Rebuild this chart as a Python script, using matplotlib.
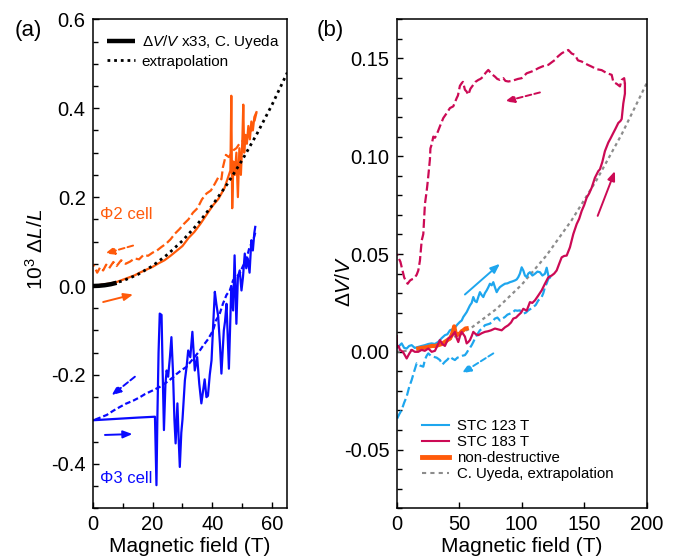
import matplotlib
matplotlib.use("Agg")
import matplotlib.pyplot as plt
from matplotlib.ticker import MultipleLocator

plt.rcParams['font.family'] = ['Liberation Sans', 'DejaVu Sans']
plt.rcParams['mathtext.fontset'] = 'custom'
plt.rcParams['mathtext.rm'] = 'Liberation Sans'
plt.rcParams['mathtext.it'] = 'Liberation Sans:italic'
plt.rcParams['mathtext.bf'] = 'Liberation Sans:bold'

# ---------------- panel (a): magnetostriction, 10^3 dL/L ----------------
uyeda_B = [0, 2, 4, 6, 8]
uyeda_dL = [0.0, 0.0005, 0.0018, 0.004, 0.0073]

extrap_B = [0, 5, 10, 15, 20, 25, 30, 35, 40, 45, 50, 55, 60, 65]
extrap_dL = [0.0, 0.0028, 0.0114, 0.0256, 0.0454, 0.071, 0.102, 0.139,
             0.182, 0.230, 0.284, 0.344, 0.409, 0.480]

phi2_up_B = [0, 2, 4, 6, 8, 10, 12, 14, 16, 18, 20, 22, 24, 26, 28, 30, 32,
             34, 36, 38, 40, 41, 42, 43, 44, 45, 45.5, 46, 46.3, 46.6, 47,
             47.5, 48, 48.5, 49, 49.5, 50, 50.3, 50.6, 51, 51.5, 52, 52.5,
             53, 53.5, 54, 54.7]
phi2_up_dL = [0.0, 0.002, 0.004, 0.006, 0.009, 0.014, 0.019, 0.024, 0.031,
              0.037, 0.043, 0.051, 0.058, 0.068, 0.079, 0.090, 0.108, 0.122,
              0.140, 0.160, 0.180, 0.188, 0.196, 0.208, 0.220, 0.240, 0.250,
              0.260, 0.428, 0.175, 0.280, 0.250, 0.300, 0.200, 0.310, 0.250,
              0.330, 0.408, 0.300, 0.340, 0.320, 0.360, 0.330, 0.370, 0.350,
              0.380, 0.391]

phi2_down_B = [54.7, 54, 53.5, 53, 52, 51, 50.2, 49, 48, 46.9, 45.5, 44.5,
               43.5, 43, 42, 40.8, 39.5, 38, 36.5, 35, 33.5, 32, 30.5, 29,
               27.5, 26, 24.5, 23, 21.5, 20, 18.5, 17, 15.5, 14, 12.5, 11,
               9.5, 8, 6.9, 5.5, 4.5, 3.5, 2.5, 1.5, 0.5, 0]
phi2_down_dL = [0.39, 0.37, 0.365, 0.35, 0.345, 0.335, 0.327, 0.32, 0.31,
                0.305, 0.29, 0.295, 0.267, 0.24, 0.245, 0.23, 0.215, 0.208,
                0.195, 0.175, 0.165, 0.15, 0.14, 0.128, 0.118, 0.105, 0.095,
                0.088, 0.080, 0.075, 0.068, 0.070, 0.060, 0.062, 0.055,
                0.050, 0.058, 0.045, 0.054, 0.040, 0.048, 0.035, 0.042,
                0.030, 0.045, 0.048]

phi3_up_B = [0, 5, 10, 15, 20.8, 21.3, 21.6, 22.0, 22.4, 23.0, 23.4, 23.8,
             24.3, 24.7, 25.2, 25.8, 26.3, 26.8, 27.3, 27.7, 28.3, 28.7,
             29.1, 29.6, 30.0, 30.8, 31.4, 31.9, 32.6, 33.3, 34.1, 34.9,
             35.6, 36.3, 37.4, 38.0, 38.5, 39.1, 39.7, 40.3, 40.8, 41.3,
             41.9, 42.5, 43.0, 43.8, 44.2, 44.7, 45.5, 46.3, 46.9, 47.4,
             48.0, 48.5, 49.1, 49.7, 50.2, 50.8, 51.3, 51.8, 52.4, 53.0,
             53.5, 54.0, 54.3]
phi3_up_dL = [-0.302, -0.300, -0.298, -0.296, -0.294, -0.448, -0.30, -0.15,
              -0.062, -0.065, -0.20, -0.324, -0.22, -0.19, -0.204, -0.16,
              -0.115, -0.19, -0.30, -0.354, -0.264, -0.34, -0.407, -0.33,
              -0.30, -0.212, -0.18, -0.145, -0.16, -0.103, -0.19, -0.16,
              -0.22, -0.264, -0.21, -0.25, -0.247, -0.20, -0.167, -0.08,
              -0.013, -0.04, -0.067, -0.13, -0.197, -0.10, -0.08, -0.04,
              -0.186, 0.0, -0.055, 0.069, -0.085, 0.02, 0.035, -0.01, 0.02,
              0.073, 0.04, 0.062, 0.03, 0.103, 0.08, 0.12, 0.133]

phi3_down_B = [54.3, 53.5, 52.4, 51.3, 50.2, 49.1, 48, 46.9, 45.8, 44.7,
               43.5, 42.3, 41.2, 40.2, 38.5, 36.8, 35.8, 34, 32.5, 31.3,
               29.5, 28, 26.9, 25, 22.4, 20, 17.5, 15.8, 13.5, 11, 9.1, 7,
               4.7, 2.5, 1, 0]
phi3_down_dL = [0.12, 0.10, 0.088, 0.058, 0.045, 0.028, 0.02, 0.013, -0.01,
                -0.02, -0.04, -0.065, -0.077, -0.10, -0.12, -0.135, -0.145,
                -0.16, -0.172, -0.182, -0.19, -0.198, -0.205, -0.215, -0.227,
                -0.235, -0.243, -0.25, -0.258, -0.265, -0.272, -0.28, -0.29,
                -0.296, -0.300, -0.302]

# sweep-direction arrows (start B, start y, end B, end y, colour, dashed)
arrows_a = [
    (13.5, 0.091, 4.1, 0.073, '#ff5a0a', True),
    (3.5, -0.036, 13.5, -0.019, '#ff5a0a', False),
    (14.1, -0.204, 6.3, -0.246, '#0a0aff', True),
    (4.1, -0.335, 13.3, -0.333, '#0a0aff', False),
]

# ---------------- panel (b): volume change dV/V ----------------
stc183_up_B = [0, 0.3, 1.5, 2.6, 5, 8, 10, 12, 14.5, 17.3, 20, 22.5, 25.3,
               28, 30.6, 32.5, 34.6, 36.5, 38.6, 40, 41.3, 44, 46.6, 48,
               49.3, 50.6, 52, 53.3, 54.6, 56, 57.3, 58.6, 60, 61.3, 63.3,
               65.3, 68, 70.6, 73, 75.5, 78.6, 81, 84, 86.6, 89.3, 91.5, 93.3,
               95.5, 97.3, 99.5, 101.3, 104, 106.6, 108.5, 110.6, 113.3, 116,
               118.6, 120, 121.3, 124, 126, 128, 130, 132, 134, 136, 138.6,
               141.3, 144, 146, 148, 150, 152, 154, 156, 158.6, 161.3, 162.6,
               164.5, 166.6, 169.3, 171, 173.3, 175, 177.3, 179, 180, 181.3,
               182.6, 182.6]
stc183_up_dV = [0.008, 0.0025, 0.003, 0.001, 0.000, -0.0034, -0.001, 0.001,
                0.0, -0.0, 0.001, 0.0005, 0.0017, 0.000, 0.0005, 0.003,
                0.006, 0.004, 0.003, 0.005, 0.0068, 0.008, 0.0102, 0.007,
                0.005, 0.008, 0.0102, 0.009, 0.0078, 0.0043, 0.005, 0.006,
                0.008, 0.0102, 0.009, 0.0085, 0.0095, 0.0102, 0.0105, 0.011,
                0.0119, 0.0115, 0.011, 0.0125, 0.0136, 0.015, 0.017, 0.0175,
                0.0187, 0.0200, 0.022, 0.021, 0.0254, 0.025, 0.0263, 0.0288,
                0.0314, 0.0348, 0.0365, 0.0381, 0.039, 0.040, 0.0416, 0.045,
                0.0483, 0.049, 0.0492, 0.0534, 0.0602, 0.0653, 0.068, 0.072,
                0.075, 0.0788, 0.081, 0.0839, 0.089, 0.0924, 0.0933, 0.097,
                0.1026, 0.107, 0.109, 0.1119, 0.114, 0.117, 0.118, 0.119,
                0.127, 0.132, 0.137]

stc183_down_B = [182.6, 182, 180, 178.6, 176, 173.3, 172, 168, 164, 160,
                 156, 152, 148, 145, 142.6, 140, 137.3, 134.5, 132, 129,
                 126.6, 124, 121.3, 117, 113.3, 110.5, 108, 104, 100, 97,
                 94.6, 92, 89.3, 87, 85.3, 82.6, 80.5, 78.6, 76, 73.3, 71,
                 69.3, 67, 65.3, 63, 61.3, 59, 57.3, 56, 54.6, 53, 52, 50.6,
                 49, 48, 45.3, 42.6, 40, 37.3, 34.6, 32, 30.6, 29.3, 28, 27,
                 26.6, 25.3, 24.5, 24, 22.6, 21.3, 20, 18.6, 17.3, 16, 14.5,
                 13.3, 12, 10.6, 8.8, 7.5, 6, 4.5, 3, 1.5, 0.3]
stc183_down_dV = [0.137, 0.1399, 0.139, 0.1357, 0.137, 0.138, 0.1416,
                  0.1425, 0.144, 0.1445, 0.1458, 0.1470, 0.1484, 0.149,
                  0.1518, 0.1525, 0.1543, 0.1535, 0.1526, 0.151, 0.1492,
                  0.148, 0.1467, 0.146, 0.145, 0.144, 0.1433, 0.1424, 0.1399,
                  0.1395, 0.139, 0.1385, 0.1382, 0.1385, 0.1399, 0.139,
                  0.1395, 0.1407, 0.142, 0.1441, 0.1425, 0.1407, 0.1395,
                  0.139, 0.138, 0.1365, 0.1345, 0.1314, 0.133, 0.134, 0.138,
                  0.1373, 0.136, 0.131, 0.1297, 0.1255, 0.1246, 0.122,
                  0.1195, 0.1153, 0.111, 0.1094, 0.110, 0.106, 0.104, 0.0984,
                  0.0899, 0.085, 0.0822, 0.0755, 0.0602, 0.0568, 0.0466,
                  0.0416, 0.0394, 0.038, 0.0373, 0.037, 0.0364, 0.0348,
                  0.036, 0.038, 0.042, 0.046, 0.048, 0.050]

stc123_up_B = [0, 2, 4, 6, 8, 10, 12, 14.5, 17.3, 20, 22.6, 25.3, 28, 30.6,
               33.3, 36, 38.6, 40.6, 42.6, 44.6, 46.6, 48.6, 50.6, 52, 53.3,
               54.6, 56, 57.3, 58.6, 60, 61.3, 62.6, 64, 65.3, 66.6, 68, 69.3,
               70.6, 72, 73.3, 74.6, 76, 77.3, 78.6, 80, 81.3, 82.6, 84.6,
               86.6, 88.6, 90.6, 92.6, 94.6, 96, 97.3, 98.6, 100, 101.3,
               102.6, 104, 105.3, 106.6, 108.6, 110.6, 112.6, 114.6, 116.6,
               118.6, 120, 121.3, 122.6]
stc123_up_dV = [0.0017, 0.003, 0.0043, 0.002, 0.0017, 0.003, 0.0034, 0.002,
                0.0025, 0.003, 0.0034, 0.004, 0.0043, 0.004, 0.0051, 0.007,
                0.0085, 0.009, 0.011, 0.0115, 0.0124, 0.014, 0.0153, 0.016,
                0.0178, 0.019, 0.0203, 0.022, 0.0237, 0.025, 0.028, 0.026,
                0.0254, 0.028, 0.0305, 0.029, 0.028, 0.030, 0.0314, 0.033,
                0.0348, 0.034, 0.0356, 0.033, 0.0305, 0.032, 0.0331, 0.034,
                0.0348, 0.035, 0.0356, 0.036, 0.0365, 0.037, 0.0382, 0.040,
                0.0432, 0.0416, 0.039, 0.0382, 0.040, 0.0407, 0.039, 0.0399,
                0.041, 0.0407, 0.039, 0.0399, 0.043, 0.039, 0.038]

stc123_down_B = [122.6, 121.3, 120, 118.6, 117.3, 116, 114.6, 113.3, 111.3,
                 109.3, 107.3, 105.3, 103.3, 101.3, 100, 98.6, 96.6, 94.6,
                 92.6, 90.6, 88.6, 86.6, 84.6, 82.6, 80.6, 78.6, 76.6, 74.6,
                 72.6, 70.6, 68.6, 66.6, 64.6, 62.6, 61.3, 60, 58.6, 57.3,
                 56, 54.6, 52.6, 50.6, 48.6, 46.6, 44.6, 42.6, 40.6, 38.6,
                 36.6, 34.6, 32, 29.3, 27.3, 25.3, 24, 22.6, 21.3, 18.6, 16,
                 14, 12, 10, 8, 6, 4, 2, 0]
stc123_down_dV = [0.038, 0.0373, 0.035, 0.033, 0.030, 0.028, 0.027, 0.0263,
                  0.024, 0.0229, 0.022, 0.0212, 0.020, 0.0195, 0.020, 0.0212,
                  0.021, 0.0212, 0.020, 0.0195, 0.019, 0.0178, 0.017, 0.016,
                  0.0175, 0.017, 0.0155, 0.0144, 0.014, 0.0136, 0.012, 0.011,
                  0.009, 0.0068, 0.005, 0.0034, 0.002, 0.0009, -0.0005,
                  -0.0017, -0.002, -0.0025, -0.003, -0.0042, -0.0035,
                  -0.0025, -0.004, -0.0051, -0.0065, -0.0042, -0.003,
                  -0.0025, -0.002, -0.0008, -0.002, -0.004, -0.0076, -0.007,
                  -0.0059, -0.010, -0.0144, -0.018, -0.0229, -0.026, -0.0297,
                  -0.032, -0.0347]

nondestr_B = [17.3, 20, 22.6, 25.3, 28, 30.6, 33.3, 36, 38.6, 40.6, 42.6, 44,
              45.3, 46, 47, 48, 49.3, 50.6, 52, 53.3, 55, 56]
nondestr_dV = [0.0017, 0.002, 0.0022, 0.0025, 0.003, 0.003, 0.0034, 0.004,
               0.0051, 0.006, 0.0068, 0.0085, 0.011, 0.013, 0.010, 0.0085,
               0.009, 0.0093, 0.0105, 0.011, 0.0119, 0.012]

uyeda_ext_B = [0, 20, 40, 60, 80, 100, 120, 140, 160, 180, 200]
uyeda_ext_dV = [0.0, 0.00137, 0.0055, 0.0124, 0.022, 0.0343, 0.0494, 0.0673,
                0.0879, 0.1112, 0.1373]

arrows_b = [
    (114.6, 0.1326, 86.6, 0.128, '#cc0a55', True),
    (160.8, 0.0695, 174.6, 0.0924, '#cc0a55', False),
    (54.6, 0.0293, 82.6, 0.045, '#1ea6ee', False),
    (77.3, -0.0008, 52.0, -0.011, '#1ea6ee', True),
]

ORANGE = '#ff5a0a'
BLUE = '#0a0aff'
CYAN = '#1ea6ee'
CRIMSON = '#cc0a55'
GRAY = '#8c8c8c'
DASH = (0, (4, 1.6))
LW = 1.6

fig = plt.figure(figsize=(6.79, 5.59), dpi=100)
ax1 = fig.add_axes([0.1365, 0.0907, 0.2866, 0.8748])
ax2 = fig.add_axes([0.5842, 0.0907, 0.3682, 0.8748])


def style_axes(ax):
    for sp in ax.spines.values():
        sp.set_linewidth(1.1)
    ax.tick_params(which='both', direction='in', top=False, right=False,
                   labelsize=14.5, width=1.0, pad=5)
    ax.tick_params(which='major', length=4.5)
    ax.tick_params(which='minor', length=3.5)


def draw_arrows(ax, specs):
    for x0, y0, x1, y1, col, dashed in specs:
        ax.annotate('', xy=(x1, y1), xytext=(x0, y0),
                    arrowprops=dict(arrowstyle='-|>,head_length=0.55,head_width=0.22',
                                    color=col, lw=1.4,
                                    linestyle=(0, (3, 1.6)) if dashed else '-',
                                    shrinkA=0, shrinkB=0))


# panel (a)
ax1.plot(phi2_down_B, phi2_down_dL, color=ORANGE, lw=LW, ls=DASH)
ax1.plot(phi2_up_B, phi2_up_dL, color=ORANGE, lw=LW)
ax1.plot(phi3_down_B, phi3_down_dL, color=BLUE, lw=LW, ls=(0, (2.5, 1.3)))
ax1.plot(phi3_up_B, phi3_up_dL, color=BLUE, lw=LW)
l_ext, = ax1.plot(extrap_B, extrap_dL, color='black', lw=2.0,
                  ls=(0, (1, 1.4)), label='extrapolation')
l_uy, = ax1.plot(uyeda_B, uyeda_dL, color='black', lw=3.2,
                 label=r'$\Delta V/V$ x33, C. Uyeda', solid_capstyle='butt')
draw_arrows(ax1, arrows_a)
ax1.text(2.4, 0.162, '\u03a62 cell', color=ORANGE, fontsize=12,
         va='center', ha='left')
ax1.text(2.4, -0.432, '\u03a63 cell', color=BLUE, fontsize=12,
         va='center', ha='left')
ax1.set_xlim(0, 65)
ax1.set_ylim(-0.5, 0.6)
ax1.xaxis.set_major_locator(MultipleLocator(20))
ax1.xaxis.set_minor_locator(MultipleLocator(10))
ax1.yaxis.set_major_locator(MultipleLocator(0.2))
ax1.yaxis.set_minor_locator(MultipleLocator(0.05))
ax1.yaxis.set_major_formatter(plt.FuncFormatter(lambda v, p: f'{v:.1f}'))
style_axes(ax1)
ax1.set_xlabel('Magnetic field (T)', fontsize=15, labelpad=2)
ax1.set_ylabel(r'$\mathregular{10^3}\ \Delta L/L$', fontsize=15)
ax1.yaxis.set_label_coords(-0.235, 0.53)
ax1.legend(handles=[l_uy, l_ext], loc='upper left', bbox_to_anchor=(0.02, 0.994),
           frameon=False, fontsize=11, handlelength=1.8, handletextpad=0.45,
           labelspacing=0.25, borderaxespad=0.3)

# panel (b)
ax2.plot(uyeda_ext_B, uyeda_ext_dV, color=GRAY, lw=1.6, ls=(0, (1.5, 1.5)))
ax2.plot(stc183_down_B, stc183_down_dV, color=CRIMSON, lw=LW, ls=DASH)
ax2.plot(stc123_down_B, stc123_down_dV, color=CYAN, lw=LW, ls=DASH)
ax2.plot(stc123_up_B, stc123_up_dV, color=CYAN, lw=LW)
ax2.plot(nondestr_B, nondestr_dV, color=ORANGE, lw=3.0)
ax2.plot(stc183_up_B, stc183_up_dV, color=CRIMSON, lw=LW)
draw_arrows(ax2, arrows_b)
h1, = ax2.plot([], [], color=CYAN, lw=1.5, label='STC 123 T')
h2, = ax2.plot([], [], color=CRIMSON, lw=1.5, label='STC 183 T')
h3, = ax2.plot([], [], color=ORANGE, lw=3.5, label='non-destructive')
h4, = ax2.plot([], [], color=GRAY, lw=1.5, ls=(0, (2, 2)),
               label='C. Uyeda, extrapolation')
ax2.set_xlim(0, 200)
ax2.set_ylim(-0.08, 0.17)
ax2.xaxis.set_major_locator(MultipleLocator(50))
ax2.yaxis.set_major_locator(MultipleLocator(0.05))
ax2.yaxis.set_minor_locator(MultipleLocator(0.01))
ax2.yaxis.set_major_formatter(plt.FuncFormatter(lambda v, p: f'{v:.2f}'))
style_axes(ax2)
ax2.set_xlabel('Magnetic field (T)', fontsize=15, labelpad=2)
ax2.set_ylabel(r'$\Delta V/V$', fontsize=15)
ax2.yaxis.set_label_coords(-0.17, 0.465)
ax2.legend(handles=[h1, h2, h3, h4], loc='lower left',
           bbox_to_anchor=(0.076, 0.044), frameon=False, fontsize=10.8,
           handlelength=1.85, handletextpad=0.5, labelspacing=0.12,
           borderaxespad=0.0)

fig.text(0.022, 0.946, '(a)', fontsize=16, va='center', ha='left')
fig.text(0.466, 0.946, '(b)', fontsize=16, va='center', ha='left')

fig.savefig('out.png', dpi=100)
